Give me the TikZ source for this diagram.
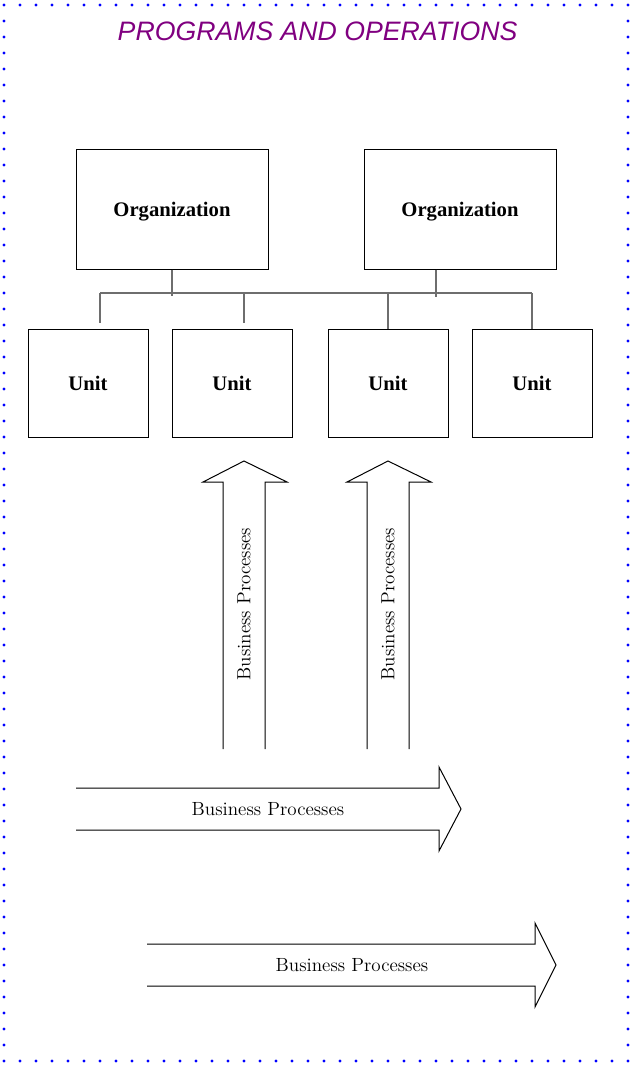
\documentclass[tikz,border=0pt]{standalone}
\usepackage{fontspec}
\newfontfamily\titlefont{Liberation Sans}
\newfontfamily\boxfont{Liberation Serif}
\definecolor{dotblue}{RGB}{0,0,255}
\definecolor{titlepurple}{RGB}{128,0,128}
\definecolor{conngray}{RGB}{110,110,110}
\begin{document}
\begin{tikzpicture}[x=0.75pt,y=-0.75pt,
  border/.style={draw=dotblue,line width=2.5pt,line cap=round,dash pattern=on 0pt off 12pt},
  titletext/.style={font=\titlefont\itshape\fontsize{20}{24}\selectfont,text=titlepurple,inner sep=0pt},
  orgbox/.style={draw,line width=0.75pt,minimum width=144pt,minimum height=90pt,inner sep=0pt,text height=11.5pt,text depth=0pt,font=\boxfont\bfseries\fontsize{15.5}{18}\selectfont},
  unitbox/.style={draw,line width=0.75pt,minimum width=90pt,minimum height=81pt,inner sep=0pt,font=\boxfont\bfseries\fontsize{15.5}{18}\selectfont},
  conn/.style={draw=conngray,line width=0.9pt},
  bigarrow/.style={draw,line width=0.75pt,line join=miter},
  bptext/.style={font=\fontsize{14.3}{17}\selectfont,inner sep=0pt}]
\useasboundingbox (0,0) rectangle (631,1065);
\draw[border] (4,5) rectangle (628,1061);
\node[titletext,anchor=base] (title) at (317.5,40) {PROGRAMS AND OPERATIONS};

\node[orgbox] (o1) at (172,209) {Organization};
\node[orgbox] (o2) at (460,209) {Organization};
\node[unitbox] (u1) at (88,383) {Unit};
\node[unitbox] (u2) at (232,383) {Unit};
\node[unitbox] (u3) at (388,383) {Unit};
\node[unitbox] (u4) at (532,383) {Unit};

\coordinate (busL) at (100,293);
\coordinate (busR) at (532,293);
\coordinate (d1) at (100,323);
\coordinate (d2) at (244,323);
\coordinate (j1) at (172,296);
\coordinate (j2) at (436,297);
\draw[conn] (busL) -- (busR);
\draw[conn] (o1.south) -- (j1);
\draw[conn] ([xshift=-18pt]o2.south) -- (j2);
\draw[conn] (busL) -- (d1);
\draw[conn] (d1 |- busL) ++(144,0) -- (d2);
\draw[conn] (u3.north |- busL) -- (u3.north);
\draw[conn] (busR) -- (u4.north);

% vertical arrows
\draw[bigarrow] (223,749) -- (223,482) -- (203,482) -- (244,461) -- (287,482) -- (265,482) -- (265,749);
\draw[bigarrow] (367,749) -- (367,482) -- (347,482) -- (388,461) -- (431,482) -- (409,482) -- (409,749);
\node[bptext,rotate=90] (v1) at (244,604) {Business Processes};
\node[bptext,rotate=90] (v2) at (388,604) {Business Processes};

% horizontal arrows
\draw[bigarrow] (76,788) -- (439,788) -- (439,767) -- (461,809) -- (439,851) -- (439,830) -- (76,830);
\node[bptext] (h1) at (268,809) {Business Processes};
\draw[bigarrow] (147,944) -- (535,944) -- (535,923) -- (556,965) -- (535,1007) -- (535,986) -- (147,986);
\node[bptext] (h2) at (352,965) {Business Processes};
\end{tikzpicture}
\end{document}
